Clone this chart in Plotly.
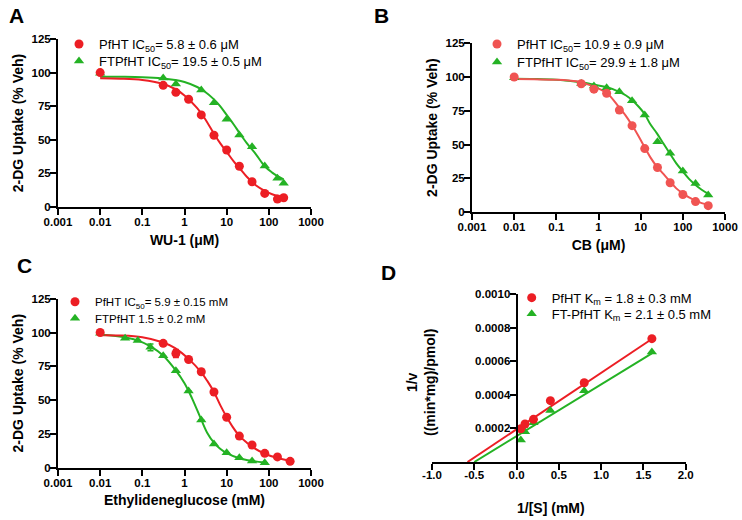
import plotly.graph_objects as go

W, H = 742, 520
FONT = 'Liberation Sans, Arial, sans-serif'
RED = 'rgb(236,30,36)'
RED_B = 'rgb(240,84,82)'
GREEN = 'rgb(36,178,36)'

# ---- Panel A: WU-1 (uM) ----
a_conc_red = [0.01, 0.3125, 0.625, 1.25, 2.5, 5, 10, 20, 40, 80, 160, 225]
a_red = [100, 90.5, 85.3, 80.2, 68.5, 53.4, 42.4, 30.3, 18.8, 10.1, 5.9, 6.9]
a_conc_green = [0.01, 0.3125, 0.625, 2.5, 5, 10, 20, 40, 80, 160, 225]
a_green = [99.5, 96, 91.5, 87, 77.6, 65.2, 53.6, 44.9, 30.5, 21.3, 17.6]
a_fit_x = [0.01, 0.03, 0.1, 0.3, 0.6, 1, 2, 3, 5, 7, 10, 15, 20, 30, 50, 80, 120, 160, 225]
a_fit_red = [95.8, 95.5, 94.5, 91.7, 87.8, 83, 73.5, 66, 54.5, 47.5, 41, 33.5, 29, 22.5, 16, 12, 9.5, 8.3, 7.2]
a_fit_green = [97, 96.9, 96.6, 95.7, 94.5, 93, 89.3, 85.9, 80.1, 75.1, 68.5, 61, 55.2, 47.5, 39, 30.3, 25.6, 23, 20.6]

# ---- Panel B: CB (uM) ----
b_conc = [0.01, 0.39, 0.78, 1.56, 3.125, 6.25, 12.5, 25, 50, 100, 200, 400]
b_red = [100, 95, 91, 88, 75.5, 64, 47, 33, 21.7, 13, 7.7, 4.7]
b_red_err = [0, 0, 2, 0, 2, 0, 0, 0, 0, 0, 0, 0]
b_green = [99.5, 95.3, 93.3, 92.1, 89.1, 82.5, 71.9, 52.1, 43.5, 30.4, 21.2, 12.6]
b_fit_x = [0.01, 0.03, 0.1, 0.3, 0.5, 0.8, 1.6, 3, 4.5, 6.2, 9, 12.4, 17, 24.3, 35, 50, 70, 100, 140, 200, 280, 400]
b_fit_red = [98.5, 98.3, 98, 96.8, 95, 92.8, 88, 78, 71, 64.4, 56, 48, 40.5, 33.6, 28, 22.5, 17.5, 13.8, 10.8, 8.4, 6.6, 5.2]
b_fit_green = [98.8, 98.6, 98, 96.5, 95.5, 94.3, 92.5, 89.2, 86.3, 83, 78, 72.6, 65, 58.3, 50.5, 43, 36, 30, 24.5, 20, 16.5, 13.5]

# ---- Panel C: Ethylideneglucose (mM) ----
c_conc_red = [0.01, 0.3125, 0.625, 1.25, 2.5, 5, 10, 20, 40, 80, 160, 320]
c_red = [100, 92, 84.5, 80, 71, 56, 37.3, 23.4, 16.8, 10.6, 8, 4.7]
c_red_err = [0, 1.5, 3, 0, 0, 0, 0, 0, 0, 0, 0, 0]
c_conc_green = [0.01, 0.039, 0.078, 0.156, 0.3125, 0.625, 1.25, 2.5, 5, 10, 20, 40, 80]
c_green = [99.5, 95.7, 94, 89, 82.8, 71.8, 56.7, 35.3, 17.5, 11.1, 7.4, 5, 3.7]
c_green_err = [0, 0, 0, 2.5, 0, 0, 0, 0, 0, 0, 0, 0, 0]
c_fit_red_x = [0.01, 0.03, 0.1, 0.3, 0.6, 1.25, 2.5, 3.5, 5, 7, 10, 14, 20, 30, 40, 80, 160, 320]
c_fit_red = [98, 97.8, 96.5, 92.8, 88.5, 80.5, 70.5, 64, 56, 46.5, 37.5, 30, 23.5, 18.5, 15.5, 10.3, 7.2, 5.2]
c_fit_green_x = [0.01, 0.04, 0.08, 0.16, 0.31, 0.62, 1.0, 1.5, 2.5, 3.5, 5, 7, 10, 20, 40, 80]
c_fit_green = [98.5, 96.3, 94, 89.5, 83, 72, 62.5, 51.5, 35.5, 25.5, 18.5, 14, 10.8, 7, 5, 3.8]

# ---- Panel D: Lineweaver-Burk ----
d_inv_s = [0.05, 0.1, 0.2, 0.4, 0.8, 1.6]
d_red = [0.000198, 0.000226, 0.000254, 0.000365, 0.000472, 0.000734]
d_green = [0.000131, 0.00018, 0.000234, 0.000306, 0.000424, 0.000655]
d_fit_red_x = [-0.58, 1.6]
d_fit_red = [0, 0.000732]
d_fit_green_x = [-0.5, 1.6]
d_fit_green = [0, 0.000647]

log_ticks = [0.001, 0.01, 0.1, 1, 10, 100, 1000]
log_ticktext = ['0.001', '0.01', '0.1', '1', '10', '100', '1000']
pct_ticks = [0, 25, 50, 75, 100, 125]
d_xticks = [-1.0, -0.5, 0.0, 0.5, 1.0, 1.5, 2.0]
d_yticks = [0.0002, 0.0004, 0.0006, 0.0008, 0.0010]

legend_names = {
    'A': ['PfHT IC<sub>50</sub>= 5.8 ± 0.6 μM', 'FTPfHT IC<sub>50</sub>= 19.5 ± 0.5 μM'],
    'B': ['PfHT IC<sub>50</sub>= 10.9 ± 0.9 μM', 'FTPfHT IC<sub>50</sub>= 29.9 ± 1.8 μM'],
    'C': ['PfHT IC<sub>50</sub>= 5.9 ± 0.15 mM', 'FTPfHT 1.5 ± 0.2 mM'],
    'D': ['PfHT K<sub>m</sub> = 1.8 ± 0.3 mM', 'FT-PfHT K<sub>m</sub> = 2.1 ± 0.5 mM'],
}


def px(x):
    return x / W


def py(y):
    return 1 - y / H


def err(arr, color):
    return dict(type='data', array=arr, visible=True, color=color, thickness=1.5, width=3)


fig = go.Figure()


def add_panel(n, fit_xr, fit_r, fit_xg, fit_g, xr, yr, er, xg, yg, eg, red, names, leg_r, leg_g):
    xa, ya = 'x' + n, 'y' + n
    fig.add_trace(go.Scatter(x=fit_xg, y=fit_g, mode='lines', line=dict(color=GREEN, width=2, shape='spline'),
                             xaxis=xa, yaxis=ya, showlegend=False, hoverinfo='skip'))
    fig.add_trace(go.Scatter(x=fit_xr, y=fit_r, mode='lines', line=dict(color=red, width=2, shape='spline'),
                             xaxis=xa, yaxis=ya, showlegend=False, hoverinfo='skip'))
    fig.add_trace(go.Scatter(x=xg, y=yg, mode='markers', name=names[1], legend=leg_g,
                             marker=dict(symbol='triangle-up', size=9, color=GREEN),
                             error_y=err(eg, GREEN) if eg else None, xaxis=xa, yaxis=ya))
    fig.add_trace(go.Scatter(x=xr, y=yr, mode='markers', name=names[0], legend=leg_r,
                             marker=dict(symbol='circle', size=9, color=red),
                             error_y=err(er, red) if er else None, xaxis=xa, yaxis=ya))


add_panel('', a_fit_x, a_fit_red, a_fit_x, a_fit_green, a_conc_red, a_red, None,
          a_conc_green, a_green, None, RED, legend_names['A'], 'legend', 'legend2')
add_panel('2', b_fit_x, b_fit_red, b_fit_x, b_fit_green, b_conc, b_red, b_red_err,
          b_conc, b_green, None, RED_B, legend_names['B'], 'legend3', 'legend4')
add_panel('3', c_fit_red_x, c_fit_red, c_fit_green_x, c_fit_green, c_conc_red, c_red, c_red_err,
          c_conc_green, c_green, c_green_err, RED, legend_names['C'], 'legend5', 'legend6')
add_panel('4', d_fit_red_x, d_fit_red, d_fit_green_x, d_fit_green, d_inv_s, d_red, None,
          d_inv_s, d_green, None, RED, legend_names['D'], 'legend7', 'legend8')

axis_common = dict(showline=True, linecolor='black', linewidth=2, ticks='outside', ticklen=6,
                   tickwidth=2, tickcolor='black', showgrid=False, zeroline=False, automargin=False,
                   tickfont=dict(family=FONT, size=11.5, color='black', weight='bold'),
                   title_font=dict(family=FONT, size=14, color='black', weight='bold'))


def log_x(domain, anchor, title):
    return dict(axis_common, type='log', range=[-3, 3], domain=domain, anchor=anchor,
                tickvals=log_ticks, ticktext=log_ticktext, ticklabelstandoff=-3,
                title=dict(text=title, standoff=8))


def pct_y(domain, anchor):
    return dict(axis_common, range=[0, 125], domain=domain, anchor=anchor, tickvals=pct_ticks,
                ticklabelstandoff=-3, title=dict(text='2-DG Uptake (% Veh)', standoff=5))


fig.update_layout(
    width=W, height=H, margin=dict(l=0, r=0, t=0, b=0, autoexpand=False),
    paper_bgcolor='white', plot_bgcolor='white',
    font=dict(family=FONT, color='black'),
    xaxis=log_x([px(58), px(311)], 'y', 'WU-1 (μM)'),
    yaxis=pct_y([py(207), py(39)], 'x'),
    xaxis2=log_x([px(472), px(725)], 'y2', 'CB (μM)'),
    yaxis2=pct_y([py(212), py(43.3)], 'x2'),
    xaxis3=log_x([px(58), px(311)], 'y3', 'Ethylideneglucose (mM)'),
    yaxis3=pct_y([py(467.7), py(298.7)], 'x3'),
    xaxis4=dict(axis_common, range=[-1, 2], domain=[px(432), px(685.7)], anchor='y4',
                tickvals=d_xticks, ticktext=['%.1f' % v for v in d_xticks], ticklabelstandoff=-5),
    yaxis4=dict(axis_common, range=[0, 0.001], domain=[py(462), py(294)], anchor='free',
                position=px(516.6), tickvals=d_yticks, ticktext=['%.4f' % v for v in d_yticks],
                ticklabelstandoff=-3),
)

legend_pos = {
    'legend': (79, 44, 13), 'legend2': (79, 61, 13),
    'legend3': (497, 44, 13), 'legend4': (497, 62, 13),
    'legend5': (75, 301.7, 11.5), 'legend6': (75, 318.3, 11.5),
    'legend7': (531.7, 297.7, 13), 'legend8': (531.7, 313.7, 13),
}
for key, (mx, my, fs) in legend_pos.items():
    fig.update_layout({key: dict(x=px(mx - 20), y=py(my), xanchor='left', yanchor='middle',
                                 bgcolor='rgba(0,0,0,0)', borderwidth=0,
                                 font=dict(family=FONT, size=fs, color='black'))})

annotations = [
    dict(text='A', x=px(16), y=py(15)),
    dict(text='B', x=px(381), y=py(15)),
    dict(text='C', x=px(24), y=py(265)),
    dict(text='D', x=px(388), y=py(272)),
]
for a in annotations:
    fig.add_annotation(a, xref='paper', yref='paper', showarrow=False, xanchor='center', yanchor='middle',
                       font=dict(family=FONT, size=21, color='black', weight='bold'))

fig.add_annotation(text='1/v<br>((min*mg)/pmol)', x=px(421), y=py(382), xref='paper', yref='paper',
                   showarrow=False, textangle=-90, xanchor='center', yanchor='middle',
                   font=dict(family=FONT, size=14, color='black', weight='bold'))
fig.add_annotation(text='1/[S] (mM)', x=px(551), y=py(508), xref='paper', yref='paper',
                   showarrow=False, xanchor='center', yanchor='middle',
                   font=dict(family=FONT, size=14, color='black', weight='bold'))

# the page body has a default 8px margin; drop it so the figure sits at the window origin
fig.write_html('out.html', config={'displayModeBar': False},
               post_script="document.body.style.margin = '0';")
